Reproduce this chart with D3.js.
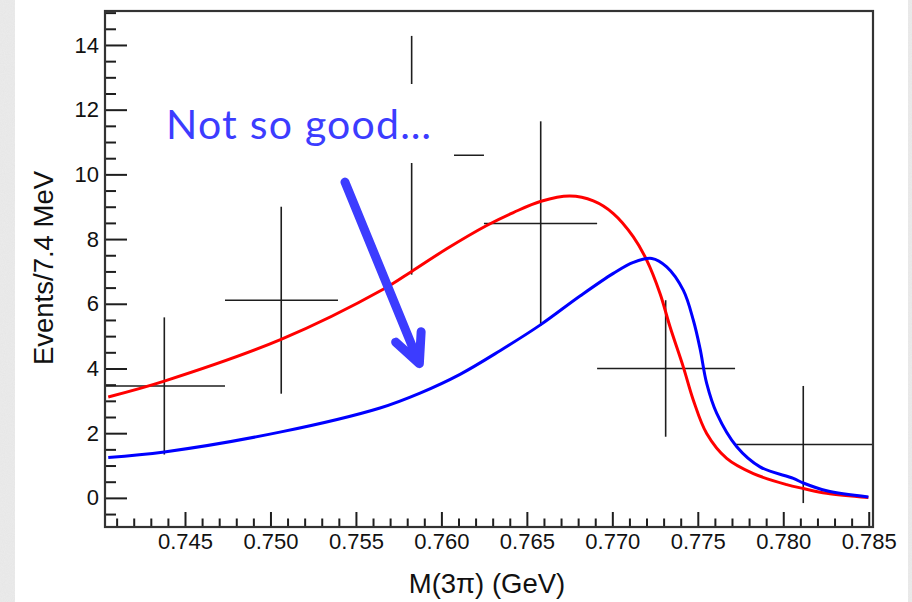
<!DOCTYPE html>
<html>
<head>
<meta charset="utf-8">
<script src="https://cdn.jsdelivr.net/npm/d3@7"></script>
<style>
  html, body { margin: 0; padding: 0; background: #ffffff; }
  svg { display: block; }
</style>
</head>
<body>
<svg id="chart" width="912" height="602"></svg>
<script>
// Measured 3π mass spectrum: bin centres, bin edges, counts and errors
const binCenters = [0.74379, 0.75063, 0.75826, 0.76581, 0.77312, 0.78117];
const binLow     = [0.74000, 0.74734, 0.75395, 0.76249, 0.76911, 0.77718];
const binHigh    = [0.74734, 0.75395, 0.76249, 0.76911, 0.77718, 0.78600];
const counts     = [3.46, 6.11, 10.59, 8.48, 4.00, 1.65];
const countErr   = [2.12, 2.89, 3.69, 3.16, 2.11, 1.81];

// Model curves (red: first model, blue: second model)
const redMass = [0.74051, 0.74379, 0.75062, 0.75660, 0.75826, 0.76031, 0.76265, 0.76421, 0.76583, 0.76752,
                 0.76889, 0.77006, 0.77123, 0.77201, 0.77279, 0.77338, 0.77415, 0.77474, 0.77552,
                 0.77669, 0.77825, 0.78020, 0.78117, 0.78254, 0.78498];
const redEvents = [3.12, 3.61, 4.90, 6.45, 7.00, 7.70, 8.42, 8.82, 9.17, 9.33,
                   9.18, 8.79, 8.07, 7.35, 6.32, 5.28, 4.05, 3.02, 1.99,
                   1.22, 0.75, 0.41, 0.29, 0.14, 0.01];
const blueMass = [0.74051, 0.74379, 0.75062, 0.75641, 0.75875, 0.76109, 0.76343, 0.76577, 0.76811,
                  0.77006, 0.77123, 0.77231, 0.77318, 0.77415, 0.77474, 0.77513, 0.77552, 0.77611,
                  0.77728, 0.77864, 0.78059, 0.78117, 0.78254, 0.78498];
const blueEvents = [1.25, 1.42, 2.04, 2.78, 3.24, 3.82, 4.55, 5.34, 6.24,
                    6.94, 7.28, 7.40, 7.14, 6.42, 5.49, 4.62, 3.54, 2.61,
                    1.58, 0.96, 0.60, 0.46, 0.22, 0.03];

// Axis ticks and labels
const xTickValues = [0.745, 0.750, 0.755, 0.760, 0.765, 0.770, 0.775, 0.780, 0.785];
const xTickLabels = ["0.745", "0.750", "0.755", "0.760", "0.765", "0.770", "0.775", "0.780", "0.785"];
const yTickValues = [0, 2, 4, 6, 8, 10, 12, 14];
const yTickLabels = ["0", "2", "4", "6", "8", "10", "12", "14"];
const xTitle = "M(3\u03c0) (GeV)";
const yTitle = "Events/7.4 MeV";

// Annotation (anchored in data units)
const noteText = "Not so good\u2026";
const noteAnchor = [0.74389, 11.08];
const arrowFrom = [0.75436, 9.76];
const arrowTo   = [0.75871, 4.15];

const svg = d3.select("#chart");
const W = 912, H = 602;
const frame = { left: 105, right: 873, top: 11, bottom: 527 };

// Slide-style grey margins with a light paper grain
const defs = svg.append("defs");
const grain = defs.append("filter").attr("id", "grain").attr("x", 0).attr("y", 0).attr("width", 1).attr("height", 1);
grain.append("feTurbulence").attr("type", "fractalNoise").attr("baseFrequency", 0.9).attr("numOctaves", 2).attr("seed", 3).attr("result", "noise");
grain.append("feColorMatrix").attr("in", "noise").attr("type", "matrix")
  .attr("values", "0 0 0 0 0.55  0 0 0 0 0.55  0 0 0 0 0.55  0 0 0 0.18 0").attr("result", "tint");
grain.append("feComposite").attr("in", "tint").attr("in2", "SourceGraphic").attr("operator", "in").attr("result", "tinted");
grain.append("feMerge").call(m => { m.append("feMergeNode").attr("in", "SourceGraphic"); m.append("feMergeNode").attr("in", "tinted"); });

svg.append("rect").attr("x", 0).attr("y", 0).attr("width", W).attr("height", H).attr("fill", "#ffffff");
svg.append("rect").attr("x", 0).attr("y", 0).attr("width", 15).attr("height", H).attr("fill", "#ececec").attr("filter", "url(#grain)");
svg.append("rect").attr("x", 908).attr("y", 0).attr("width", 4).attr("height", H).attr("fill", "#ececec").attr("filter", "url(#grain)");

const x = d3.scaleLinear().domain([0.74032, 0.78525]).range([frame.left, frame.right]);
const y = d3.scaleLinear().domain([-0.9, 15.05]).range([frame.bottom, frame.top]);

defs.append("clipPath").attr("id", "plotClip")
  .append("rect").attr("x", frame.left).attr("y", frame.top)
  .attr("width", frame.right - frame.left).attr("height", frame.bottom - frame.top);

const plot = svg.append("g").attr("clip-path", "url(#plotClip)");

// Data points with error bars
const bins = binCenters.map((c, i) => ({ c, lo: binLow[i], hi: binHigh[i], v: counts[i], e: countErr[i] }));
const pts = plot.append("g").attr("stroke", "#1e1e1e").attr("stroke-width", 1.6).attr("fill", "none");
pts.selectAll("line.xerr").data(bins).join("line").attr("class", "xerr")
  .attr("x1", d => x(d.lo)).attr("x2", d => x(d.hi))
  .attr("y1", d => y(d.v)).attr("y2", d => y(d.v));
pts.selectAll("line.yerr").data(bins).join("line").attr("class", "yerr")
  .attr("x1", d => x(d.c)).attr("x2", d => x(d.c))
  .attr("y1", d => y(d.v - d.e)).attr("y2", d => y(d.v + d.e));

// Model curves
const line = d3.line().x(d => x(d[0])).y(d => y(d[1])).curve(d3.curveCatmullRom.alpha(0.5));
plot.append("path").datum(d3.zip(redMass, redEvents)).attr("d", line)
  .attr("fill", "none").attr("stroke", "#ff0000").attr("stroke-width", 3).attr("stroke-linejoin", "round");
plot.append("path").datum(d3.zip(blueMass, blueEvents)).attr("d", line)
  .attr("fill", "none").attr("stroke", "#0000ff").attr("stroke-width", 3).attr("stroke-linejoin", "round");

// Axes with inward ticks
const axisFont = "'Liberation Sans', Arial, Helvetica, sans-serif";
const xMinor = d3.range(741, 786).filter(v => v % 5 !== 0).map(v => v / 1000);
const yMinor = d3.range(-1, 31).filter(v => v % 4 !== 0).map(v => v / 2);

const xAxisMinor = d3.axisBottom(x).tickValues(xMinor).tickSizeInner(-8.5).tickSizeOuter(0).tickFormat("");
const xAxis = d3.axisBottom(x).tickValues(xTickValues).tickSizeInner(-15).tickSizeOuter(0).tickPadding(6.4)
  .tickFormat((d, i) => xTickLabels[i]);
const yAxisMinor = d3.axisLeft(y).tickValues(yMinor).tickSizeInner(-11).tickSizeOuter(0).tickFormat("");
const yAxis = d3.axisLeft(y).tickValues(yTickValues).tickSizeInner(-22).tickSizeOuter(0).tickPadding(6)
  .tickFormat((d, i) => yTickLabels[i]);

function styleAxis(g) {
  g.select(".domain").remove();
  g.selectAll(".tick line").attr("stroke", "#1e1e1e").attr("stroke-width", 2);
  g.selectAll(".tick text").attr("fill", "#111").style("font-family", axisFont).style("font-size", "22px");
}
svg.append("g").attr("transform", `translate(0,${frame.bottom})`).call(xAxisMinor).call(styleAxis);
svg.append("g").attr("transform", `translate(0,${frame.bottom})`).call(xAxis).call(styleAxis);
svg.append("g").attr("transform", `translate(${frame.left},0)`).call(yAxisMinor).call(styleAxis);
svg.append("g").attr("transform", `translate(${frame.left},0)`).call(yAxis).call(styleAxis);

// Frame
svg.append("rect").attr("x", frame.left).attr("y", frame.top)
  .attr("width", frame.right - frame.left).attr("height", frame.bottom - frame.top)
  .attr("fill", "none").attr("stroke", "#333").attr("stroke-width", 2.2);

// Axis titles
svg.append("text").attr("x", (frame.left + frame.right) / 2 - 2).attr("y", 593)
  .attr("text-anchor", "middle").attr("fill", "#111")
  .style("font-family", axisFont).style("font-size", "27.5px").text(xTitle);
svg.append("text").attr("transform", `translate(53,${(frame.top + frame.bottom) / 2 - 1}) rotate(-90)`)
  .attr("text-anchor", "middle").attr("fill", "#111")
  .style("font-family", axisFont).style("font-size", "27.5px").text(yTitle);

// Annotation: text on a white box, and an arrow pointing at the blue curve
const noteColor = "#3c3cff";
svg.append("rect").attr("x", x(noteAnchor[0]) - 8).attr("y", 84).attr("width", 454 - x(noteAnchor[0]) + 8).attr("height", 79)
  .attr("fill", "#ffffff");
svg.append("text").attr("x", x(noteAnchor[0])).attr("y", y(noteAnchor[1]))
  .attr("fill", noteColor).style("font-family", "Lato, 'Open Sans', sans-serif").style("font-size", "41px")
  .attr("textLength", 265).attr("lengthAdjust", "spacing")
  .text(noteText);

const ax0 = x(arrowFrom[0]), ay0 = y(arrowFrom[1]), ax1 = x(arrowTo[0]), ay1 = y(arrowTo[1]);
const ang = Math.atan2(ay1 - ay0, ax1 - ax0);
const headLen = 32, headSpread = 25.5 * Math.PI / 180;
const arm = s => [ax1 - headLen * Math.cos(ang + s * headSpread), ay1 - headLen * Math.sin(ang + s * headSpread)];
const [l1, l2] = [arm(1), arm(-1)];
svg.append("path")
  .attr("d", `M${ax0},${ay0}L${ax1},${ay1}M${l1[0]},${l1[1]}L${ax1},${ay1}L${l2[0]},${l2[1]}`)
  .attr("fill", "none").attr("stroke", noteColor).attr("stroke-width", 9)
  .attr("stroke-linecap", "round").attr("stroke-linejoin", "round");
</script>
</body>
</html>
